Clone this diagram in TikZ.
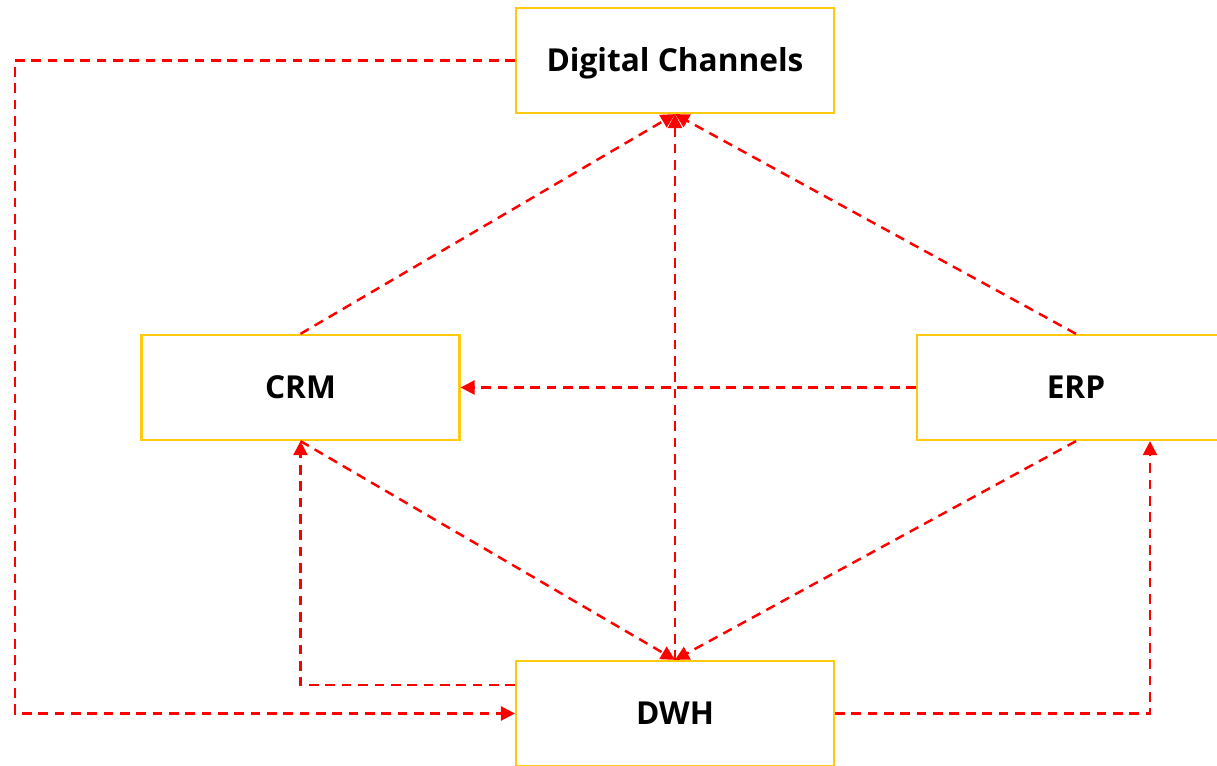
\documentclass[tikz,border=0pt]{standalone}
\usepackage{fontspec}
\setmainfont{Open Sans}
\usepackage{xcolor}
\usetikzlibrary{arrows.meta}

\definecolor{boxyellow}{HTML}{FFC90E}
\definecolor{linkred}{HTML}{FF0000}

\begin{document}
\begin{tikzpicture}[x=0.02cm, y=-0.02cm, font=\bfseries\fontsize{18}{20}\selectfont,
    sysbox/.style={draw=boxyellow, line width=1.3pt, fill=white, minimum width=6.36cm, minimum height=2.1cm, inner sep=0pt, text height=0.45cm, text depth=0pt},
    link/.style={draw=linkred, line width=1.4pt, dash pattern=on 5.5pt off 3.8pt},
    tip/.style={-{Triangle[width=0.28cm, length=0.28cm]}}]
    \useasboundingbox (0,0) rectangle (1217,766);
    \clip (0,0) rectangle (1217,766);
    % the four systems
    \node [sysbox] (dc)  at (675,60.5)  {Digital Channels};
    \node [sysbox] (crm) at (300.5,387.5) {CRM};
    \node [sysbox] (erp) at (1076,387.5) {ERP};
    \node [sysbox] (dwh) at (675,713.5) {DWH};
    % feeds into digital channels
    \draw [link, tip] (crm.north) -- (dc.south);
    \draw [link, tip] (erp.north) -- (dc.south);
    \draw [link, tip] (dwh.north) -- (dc.south);
    \draw [link, tip] (erp.west) -- (crm.east);
    % feeds into the warehouse
    \draw [link, tip] (crm.south) -- (dwh.north);
    \draw [link, tip] (erp.south) -- (dwh.north);
    \draw [link, tip] (dc.west) -- ++(-500,0) |- (dwh.west);
    % back from the warehouse
    \draw [link, tip] ([yshift=0.57cm]dwh.west) -| (crm.south);
    \draw [link, tip] (dwh.east) -| ([xshift=1.48cm]erp.south);
\end{tikzpicture}
\end{document}
